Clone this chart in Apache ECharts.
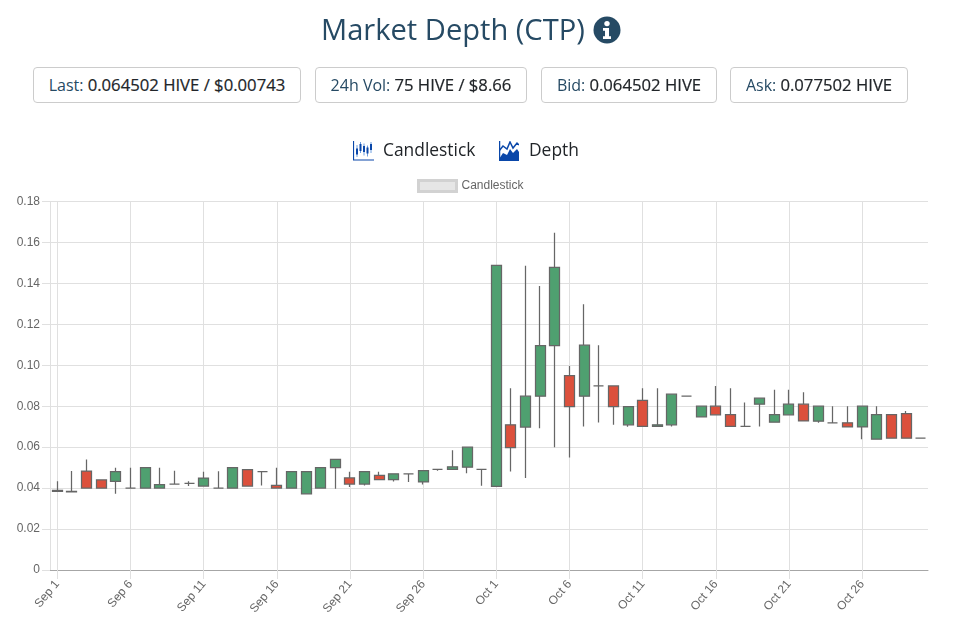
<!DOCTYPE html>
<html><head><meta charset="utf-8">
<script src="https://cdn.jsdelivr.net/npm/echarts@6/dist/echarts.min.js"></script>
<style>
html,body{margin:0;padding:0;background:#fff;width:957px;height:633px;overflow:hidden;font-family:"Open Sans",sans-serif}
#chart{position:absolute;left:0;top:0;width:957px;height:633px}
.h{position:absolute;white-space:nowrap}
#title{left:321px;top:9px;font-size:29.1px;line-height:40px;color:#264a64}
.box{top:67px;height:34px;line-height:34px;border:1px solid #ccc;border-radius:4px;text-align:center;font-size:16px;color:#264a64;background:#fff}
.box b{font-weight:400;font-size:16.7px;color:#212529;-webkit-text-stroke:.2px #212529}
.tab{top:137px;font-size:17.4px;line-height:24px;color:#212529}
</style></head><body>
<div id="chart"></div>
<div class="h" id="title">Market Depth (CTP)</div>
<svg class="h" style="left:593px;top:16px" width="28" height="28" viewBox="0 0 28 28"><circle cx="14" cy="14" r="13.5" fill="#264a64"/><circle cx="14" cy="7.6" r="2.7" fill="#fff"/><path d="M10 12h6v8.200h2V23H10v-2.800h2V14.800h-2z" fill="#fff"/></svg>
<div class="h box" style="left:33px;width:266px">Last: <b>0.064502 HIVE / $0.00743</b></div>
<div class="h box" style="left:315px;width:210px">24h Vol: <b>75 HIVE / $8.66</b></div>
<div class="h box" style="left:541px;width:174px">Bid: <b>0.064502 HIVE</b></div>
<div class="h box" style="left:730px;width:176px">Ask: <b>0.077502 HIVE</b></div>
<svg class="h" style="left:353px;top:141px" width="21" height="20" viewBox="0 0 21 20"><path d="M.5 0v19H21" fill="none" stroke="#0a47a9" stroke-width="1.200"/><g stroke="#6f9fe0" stroke-width="1"><path d="M4 4v12M7.500 1v11M11 2.500v12M14.500 4.500v11M18 1v11"/></g><g stroke="#0a47a9" stroke-width="2"><path d="M4 7.500v6M7.500 3v7M11 5v6M14.500 6.500v6M18 3v6"/></g></svg>
<div class="h tab" style="left:383px">Candlestick</div>
<svg class="h" style="left:499px;top:141px" width="20" height="20" viewBox="0 0 20 20"><path d="M0 18L4 12L8 14L11 8L14 12L18 8L20 11V20H0z" fill="#0a47a9"/><path d="M.5 0V20" stroke="#0a47a9" stroke-width="1.500"/><path d="M0 10L4 5L8 8L11 1L14 7L18 2L20 4" fill="none" stroke="#0a47a9" stroke-width="1.500"/></svg>
<div class="h tab" style="left:529px">Depth</div>
<script>
const categories = [
 'Sep 1','Sep 2','Sep 3','Sep 4','Sep 5','Sep 6','Sep 7','Sep 8','Sep 9','Sep 10',
 'Sep 11','Sep 12','Sep 13','Sep 14','Sep 15','Sep 16','Sep 17','Sep 18','Sep 19','Sep 20',
 'Sep 21','Sep 22','Sep 23','Sep 24','Sep 25','Sep 26','Sep 27','Sep 28','Sep 29','Sep 30',
 'Oct 1','Oct 2','Oct 3','Oct 4','Oct 5','Oct 6','Oct 7','Oct 8','Oct 9','Oct 10',
 'Oct 11','Oct 12','Oct 13','Oct 14','Oct 15','Oct 16','Oct 17','Oct 18','Oct 19','Oct 20',
 'Oct 21','Oct 22','Oct 23','Oct 24','Oct 25','Oct 26','Oct 27','Oct 28','Oct 29','Oct 30'];
// true where the candle is drawn green
const isGreen = [1,1,0,0,1,1,1,1,1,1, 1,1,1,0,1,0,1,1,1,1, 0,1,0,1,1,1,1,1,1,1,
 1,0,1,1,1,0,1,1,0,1, 0,1,1,1,1,0,0,1,1,1, 1,0,1,1,0,1,1,0,0,1];
const bodyTop = [.0389,.0384,.0483,.044,.048,.04,.05,.0417,.042,.0423, .0449,.04,.05,.049,.048,.0413,.048,.048,.05,.054,
 .045,.048,.0462,.047,.047,.0485,.0491,.0504,.06,.0491,
 .1488,.0709,.0849,.1096,.1478,.095,.1098,.0899,.0899,.0798, .0829,.0709,.0859,.0849,.08,.08,.0759,.0701,.0839,.0759,
 .081,.081,.08,.0719,.0719,.08,.0759,.0759,.0764,.0644];
const bodyBottom = [.0384,.0382,.04,.04,.0433,.04,.04,.04,.042,.0423, .041,.04,.04,.041,.048,.04,.04,.0372,.04,.05,
 .042,.042,.0441,.0441,.047,.043,.0491,.0491,.0502,.0491,
 .0408,.0598,.0698,.0849,.1096,.0798,.0849,.0899,.0798,.0709, .0701,.0701,.0709,.0849,.0748,.0758,.0701,.0701,.081,.0722,
 .0758,.0728,.0727,.0719,.0699,.0699,.0639,.0644,.0644,.0644];
const wickHigh = [.0434,.0483,.054,.044,.05,.05,.05,.05,.0485,.0434, .048,.0482,.05,.049,.048,.05,.048,.048,.05,.054,
 .048,.048,.048,.047,.047,.0485,.0491,.0585,.06,.0491,
 .1488,.0888,.1486,.1387,.1647,.0997,.1298,.1098,.0899,.0798, .0888,.0888,.0859,.0849,.08,.0899,.0888,.0818,.0839,.088,
 .088,.0868,.08,.08,.08,.08,.08,.0759,.0777,.0644];
const wickLow = [.0382,.0382,.04,.04,.0372,.04,.04,.04,.042,.041, .041,.04,.04,.041,.0413,.04,.04,.0372,.0397,.0397,
 .0406,.0413,.0441,.0432,.043,.0418,.0485,.0491,.0472,.0411,
 .0408,.0481,.045,.0693,.06,.0549,.0701,.072,.0709,.07, .0701,.0701,.0701,.0849,.0748,.0758,.0701,.0701,.0701,.0722,
 .0758,.0728,.0719,.0719,.0699,.0639,.0639,.0644,.0644,.0644];
const yMax = 0.18, yStep = 0.02;

const candleData = categories.map((c,i)=> isGreen[i]
  ? [bodyBottom[i],bodyTop[i],wickLow[i],wickHigh[i]]
  : [bodyTop[i],bodyBottom[i],wickLow[i],wickHigh[i]]);
const chart = echarts.init(document.getElementById('chart'),null,{renderer:'canvas'});
chart.setOption({
  animation:false,
  textStyle:{fontFamily:'"Liberation Sans",Arial,sans-serif'},
  legend:{show:true,top:174,left:412,itemWidth:38,itemHeight:11,itemGap:7,
    icon:'rect',data:['Candlestick'],
    textStyle:{color:'#666',fontSize:12,fontFamily:'"Liberation Sans",Arial,sans-serif'},
    itemStyle:{color:'#e6e6e6',borderColor:'#d2d2d2',borderWidth:3}},
  grid:{left:50,right:29,top:201.5,bottom:63,containLabel:false},
  xAxis:{type:'category',data:categories,boundaryGap:true,
    axisLine:{show:true,lineStyle:{color:'#a6a6a6',width:1}},
    axisTick:{show:true,alignWithLabel:true,interval:4,length:9,lineStyle:{color:'#e0e0e0'}},
    splitLine:{show:true,alignWithLabel:true,interval:4,lineStyle:{color:'#e0e0e0',width:1}},
    axisLabel:{interval:4,rotate:50,color:'#666',fontSize:12,margin:12}},
  yAxis:{type:'value',min:0,max:yMax,interval:yStep,
    axisLine:{show:true,lineStyle:{color:'#e0e0e0'}},
    axisTick:{show:true,length:8,lineStyle:{color:'#e0e0e0'}},
    splitLine:{show:true,lineStyle:{color:'#e0e0e0',width:1}},
    axisLabel:{color:'#666',fontSize:12,margin:10,formatter:v=>v===0?'0':v.toFixed(2)}},
  series:[{name:'Candlestick',type:'candlestick',data:candleData,barWidth:10.5,
    itemStyle:{color:'#4fa070',color0:'#dc503c',borderColor:'#666',borderColor0:'#666',borderWidth:1.25}}]
});
</script>
</body></html>
